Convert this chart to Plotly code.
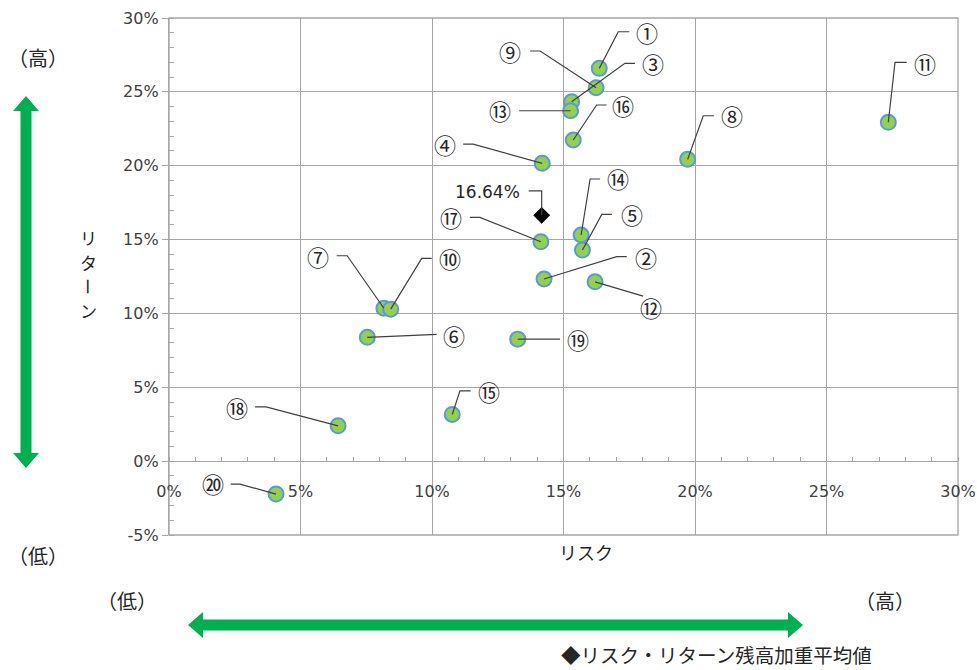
import plotly.graph_objects as go

# ---------------- data ----------------
labels = ["①", "②", "③", "④", "⑤", "⑥", "⑦", "⑧", "⑨", "⑩",
          "⑪", "⑫", "⑬", "⑭", "⑮", "⑯", "⑰", "⑱", "⑲", "⑳"]
risk = [16.36, 14.26, 15.31, 14.19, 15.72, 7.54, 8.17, 19.72, 16.24, 8.43,
        27.35, 16.20, 15.27, 15.67, 10.77, 15.37, 14.14, 6.43, 13.26, 4.07]
ret = [26.59, 12.33, 24.33, 20.16, 14.29, 8.38, 10.35, 20.43, 25.28, 10.29,
       22.94, 12.14, 23.72, 15.31, 3.16, 21.74, 14.85, 2.39, 8.26, -2.23]
avg_risk = 14.17
avg_ret = 16.64
avg_label = "16.64%"

x_ticks = [0, 5, 10, 15, 20, 25, 30]
x_ticktext = ["0%", "5%", "10%", "15%", "20%", "25%", "30%"]
y_ticks = [-5, 0, 5, 10, 15, 20, 25, 30]
y_ticktext = ["-5%", "0%", "5%", "10%", "15%", "20%", "25%", "30%"]

# ---------------- layout geometry (pixels) ----------------
W, H = 977, 670
ML, MR, MT, MB = 169, 19, 18, 135
PW, PH = W - ML - MR, H - MT - MB
XR = (0, 30)
YR = (-5, 30)
XPX = PW / (XR[1] - XR[0])
YPX = PH / (YR[1] - YR[0])

# leader-line / label offsets relative to each point (pixels, y downward)
ex = [19, 72.7, 53.3, -69, 19.4, 69.4, -36.7, 15.6, -56, 31, 6.7, 48, -40.7, 9, 7.7, 23.4, -61, -72, 42.3, -36]
ey = [-36.6, -22.3, -38.4, -19.3, -35.7, -3, -52.5, -43.6, -36.7, -50.7, -60, 14.3, 0, -56, -23.6, -35, -24.4, -19, 0, -10]
sx = [30, 82.7, 63.3, -79, 29.4, 69.4, -47.3, 26.3, -66, 41, 18.4, 48, -51.4, 19, 18.4, 33.4, -71, -83, 42.3, -45.3]
lx = [47.4, 101.7, 81.6, -97.3, 49.4, 87, -65.7, 44, -86, 59.3, 36.7, 55.7, -70.7, 37.3, 37, 50, -90.3, -100.7, 60.3, -63.3]
ly = [-36.6, -22.3, -38.4, -19.3, -35.7, -2.3, -52.5, -44.3, -36.7, -50.7, -59, 25, -0.7, -56.7, -23.6, -35, -24.4, -19, 0, -10.7]


def dx(px):
    return px / XPX


def dy(py):
    return -py / YPX


def px2paper(x, y):
    return (x - ML) / PW, (H - MB - y) / PH


GRID = "#a6a6a6"
TXT = "#404040"
GREEN = "#00b050"
JP = "Noto Sans CJK JP"

fig = go.Figure()

# markers
fig.add_trace(go.Scatter(
    x=risk, y=ret, mode="markers",
    marker=dict(size=15, color="#92d050", line=dict(color="#5b9bd5", width=2)),
    hoverinfo="skip", showlegend=False))

fig.add_trace(go.Scatter(
    x=[avg_risk], y=[avg_ret], mode="markers",
    marker=dict(size=13, symbol="diamond", color="black", line=dict(width=0)),
    hoverinfo="skip", showlegend=False))

# leader lines
lxs, lys = [], []
for i in range(len(labels)):
    x0, y0 = risk[i], ret[i]
    lxs += [x0, x0 + dx(ex[i]), x0 + dx(sx[i]), None]
    lys += [y0, y0 + dy(ey[i]), y0 + dy(ey[i]), None]
# leader for the average label
lxs += [avg_risk, avg_risk, avg_risk + dx(-13), None]
lys += [avg_ret, avg_ret + dy(-24.5), avg_ret + dy(-24.5), None]
fig.add_trace(go.Scatter(x=lxs, y=lys, mode="lines",
                         line=dict(color="#404040", width=1.2),
                         hoverinfo="skip", showlegend=False))

annotations = []
for i, lab in enumerate(labels):
    annotations.append(dict(
        x=risk[i] + dx(lx[i]), y=ret[i] + dy(ly[i]), xref="x", yref="y",
        text=lab, showarrow=False, xanchor="center", yanchor="middle",
        font=dict(family=JP, size=22, color="#262626")))

annotations.append(dict(
    x=avg_risk + dx(-20), y=avg_ret + dy(-23.5), xref="x", yref="y",
    text=avg_label, showarrow=False, xanchor="right", yanchor="middle",
    font=dict(family="DejaVu Sans", size=17, color="#262626")))


def paper_text(px, py, text, size, **kw):
    x, y = px2paper(px, py)
    d = dict(x=x, y=y, xref="paper", yref="paper", text=text, showarrow=False,
             xanchor="center", yanchor="middle",
             font=dict(family=JP, size=size, color="#262626"))
    d.update(kw)
    return d


annotations += [
    paper_text(38, 57, "（高）", 20),
    paper_text(38, 555, "（低）", 20),
    paper_text(127, 600, "（低）", 20),
    paper_text(885, 600, "（高）", 20),
    paper_text(586, 552, "リスク", 18),
    paper_text(88, 238, "リ", 17, height=21),
    paper_text(88, 262, "タ", 17, height=21),
    paper_text(88, 286, "ー", 17, width=21, height=18, textangle=90),
    paper_text(88, 310, "ン", 17, height=21),
    paper_text(716, 654, "◆リスク・リターン残高加重平均値", 19.5),
]


def poly(points):
    s = ""
    for k, (px, py) in enumerate(points):
        x, y = px2paper(px, py)
        s += ("M" if k == 0 else "L") + f"{x:.5f},{y:.5f} "
    return s + "Z"


# vertical double arrow
vx, vt, vb = 26, 96, 468
hl, hw, sw = 15, 13, 5.5
v_arrow = poly([(vx, vt), (vx + hw, vt + hl), (vx + sw, vt + hl), (vx + sw, vb - hl),
                (vx + hw, vb - hl), (vx, vb), (vx - hw, vb - hl), (vx - sw, vb - hl),
                (vx - sw, vt + hl), (vx - hw, vt + hl)])
# horizontal double arrow
hy, hlft, hrt = 625, 188, 803
h_arrow = poly([(hlft, hy), (hlft + hl, hy - hw), (hlft + hl, hy - sw), (hrt - hl, hy - sw),
                (hrt - hl, hy - hw), (hrt, hy), (hrt - hl, hy + hw), (hrt - hl, hy + sw),
                (hlft + hl, hy + sw), (hlft + hl, hy + hw)])

shapes = [
    dict(type="rect", xref="paper", yref="paper", x0=0, x1=1, y0=0, y1=1,
         line=dict(color=GRID, width=1.3), layer="below"),
    dict(type="path", xref="paper", yref="paper", path=v_arrow,
         fillcolor=GREEN, line=dict(width=0)),
    dict(type="path", xref="paper", yref="paper", path=h_arrow,
         fillcolor=GREEN, line=dict(width=0)),
]

fig.update_layout(
    width=W, height=H,
    margin=dict(l=ML, r=MR, t=MT, b=MB, autoexpand=False),
    paper_bgcolor="white", plot_bgcolor="white",
    showlegend=False,
    annotations=annotations,
    shapes=shapes,
    xaxis=dict(
        range=list(XR), tickmode="array", tickvals=x_ticks, ticktext=x_ticktext,
        showgrid=True, gridcolor=GRID, gridwidth=1.3, zeroline=False,
        anchor="free", position=(0 - YR[0]) / (YR[1] - YR[0]),
        showline=True, linecolor=GRID, linewidth=1.3,
        ticks="", ticklabelstandoff=16, automargin=False,
        minor=dict(dtick=1, ticks="inside", ticklen=4, tickcolor=GRID, showgrid=False),
        tickfont=dict(family="DejaVu Sans", size=16, color=TXT),
        fixedrange=True),
    yaxis=dict(
        range=list(YR), tickmode="array", tickvals=y_ticks, ticktext=y_ticktext,
        showgrid=True, gridcolor=GRID, gridwidth=1.3, zeroline=False,
        showline=True, linecolor=GRID, linewidth=1.3, automargin=False,
        ticks="outside", ticklen=6, tickcolor=GRID,
        minor=dict(dtick=1, ticks="inside", ticklen=5, tickcolor=GRID, showgrid=False),
        tickfont=dict(family="DejaVu Sans", size=16, color=TXT),
        fixedrange=True),
)

fig.write_html("out.html")
